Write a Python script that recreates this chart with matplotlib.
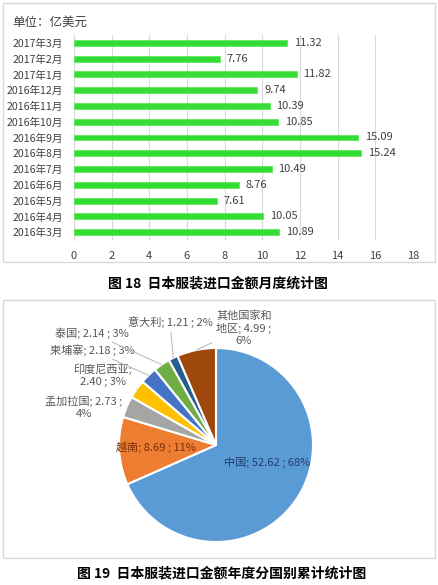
import matplotlib
matplotlib.use("Agg")
import matplotlib.pyplot as plt
import numpy as np
from matplotlib.patches import Rectangle

plt.rcParams['font.family'] = ['Noto Sans CJK SC', 'DejaVu Sans']

# ---------------- data ----------------
months = ["2016年3月", "2016年4月", "2016年5月", "2016年6月", "2016年7月", "2016年8月",
          "2016年9月", "2016年10月", "2016年11月", "2016年12月", "2017年1月", "2017年2月", "2017年3月"]
month_values = [10.89, 10.05, 7.61, 8.76, 10.49, 15.24, 15.09, 10.85, 10.39, 9.74, 11.82, 7.76, 11.32]
x_ticks = [0, 2, 4, 6, 8, 10, 12, 14, 16, 18]

countries = ["中国", "越南", "孟加拉国", "印度尼西亚", "柬埔寨", "泰国", "意大利", "其他国家和地区"]
country_values = [52.62, 8.69, 2.73, 2.40, 2.18, 2.14, 1.21, 4.99]
country_pct = [68, 11, 4, 3, 3, 3, 2, 6]
label_texts = ["中国; 52.62 ; 68%", "越南; 8.69 ; 11%", "孟加拉国; 2.73 ;\n4%",
               "印度尼西亚;\n2.40 ; 3%", "柬埔寨; 2.18 ; 3%", "泰国; 2.14 ; 3%",
               "意大利; 1.21 ; 2%", "其他国家和\n地区; 4.99 ;\n6%"]

pie_colors = ["#5B9BD5", "#ED7D31", "#A5A5A5", "#FFC000", "#4472C4", "#70AD47", "#255E91", "#9E480E"]

W, H = 438, 585
fig = plt.figure(figsize=(W / 100, H / 100), dpi=100)
fig.patch.set_facecolor("white")

def fx(px):
    return px / W

def fy(py):
    return 1 - py / H

# frames
fig.patches.append(Rectangle((fx(3), fy(262)), fx(432), 259 / H, transform=fig.transFigure,
                             fill=False, edgecolor="#D9D9D9", linewidth=1.0))
fig.patches.append(Rectangle((fx(3), fy(558)), fx(432), 258 / H, transform=fig.transFigure,
                             fill=False, edgecolor="#D9D9D9", linewidth=1.0))

# ---------------- bar chart ----------------
ax = fig.add_axes([fx(74), fy(240), fx(413 - 74), (240 - 35) / H])
y = np.arange(len(months))
ax.barh(y, month_values, height=0.38, color="#33DD33", edgecolor="#5FEA5F", linewidth=0.6, zorder=3)
for yi, v in zip(y, month_values):
    ax.text(v + 0.35, yi, f"{v:.2f}", va="center", ha="left", fontsize=8, color="#404040")
ax.set_xlim(0, 18)
ax.set_ylim(-0.5, len(months) - 0.5)
ax.set_xticks(x_ticks)
ax.set_xticklabels([str(t) for t in x_ticks], fontsize=8, color="#404040")
ax.set_yticks(y)
ax.set_yticklabels(months, fontsize=7.6, color="#404040")
ax.tick_params(axis="both", length=0)
ax.tick_params(axis="y", pad=8)
ax.tick_params(axis="x", pad=8)
ax.grid(axis="x", color="#D9D9D9", linewidth=0.8, zorder=0)
for s in ["top", "right", "bottom"]:
    ax.spines[s].set_visible(False)
ax.spines["left"].set_color("#D9D9D9")
ax.set_axisbelow(True)

fig.text(fx(12), fy(22), "单位：亿美元", fontsize=9, color="#404040", va="center", ha="left")
fig.text(fx(218), fy(283), "图 18  日本服装进口金额月度统计图", fontsize=10, fontweight="bold",
         ha="center", va="center", color="black")

# ---------------- pie chart ----------------
R = 97.0
cx, cy = 216, 445
pax = fig.add_axes([fx(3), fy(558), fx(432), 258 / H])
pax.axis("off")
wedges, _ = pax.pie(country_values, colors=pie_colors, startangle=90, counterclock=False,
                    radius=1.0, wedgeprops=dict(edgecolor="white", linewidth=1.5))
pax.set_xlim((3 - cx) / R, (435 - cx) / R)
pax.set_ylim(-(558 - cy) / R, (cy - 300) / R)
pax.set_aspect("auto")

def to_data(px, py):
    return ((px - cx) / R, (cy - py) / R)

# label placement (pixel positions of label centres) and style
label_pos = [(267, 462), (156, 447), (84, 407), (103, 375), (92, 350), (92, 333), (170, 322), (244, 328)]
inside = [True, True, False, False, False, False, False, False]
inside_colors = {0: "#1F3E6E", 1: "#7A2E08"}

for i, w in enumerate(wedges):
    tx, ty = to_data(*label_pos[i])
    if inside[i]:
        pax.text(tx, ty, label_texts[i], ha="center", va="center", fontsize=8,
                 color=inside_colors[i])
    else:
        ang = np.deg2rad((w.theta1 + w.theta2) / 2)
        ex, ey = np.cos(ang) * 1.0, np.sin(ang) * 1.0
        pax.annotate(label_texts[i], xy=(ex, ey), xytext=(tx, ty), ha="center", va="center",
                     fontsize=8, color="#595959", linespacing=1.25, multialignment="center",
                     arrowprops=dict(arrowstyle="-", color="#BFBFBF", linewidth=0.8,
                                     shrinkA=1, shrinkB=0))

fig.text(fx(222), fy(573), "图 19  日本服装进口金额年度分国别累计统计图", fontsize=10, fontweight="bold",
         ha="center", va="center", color="black")

fig.savefig("out.png", dpi=100, facecolor="white")
